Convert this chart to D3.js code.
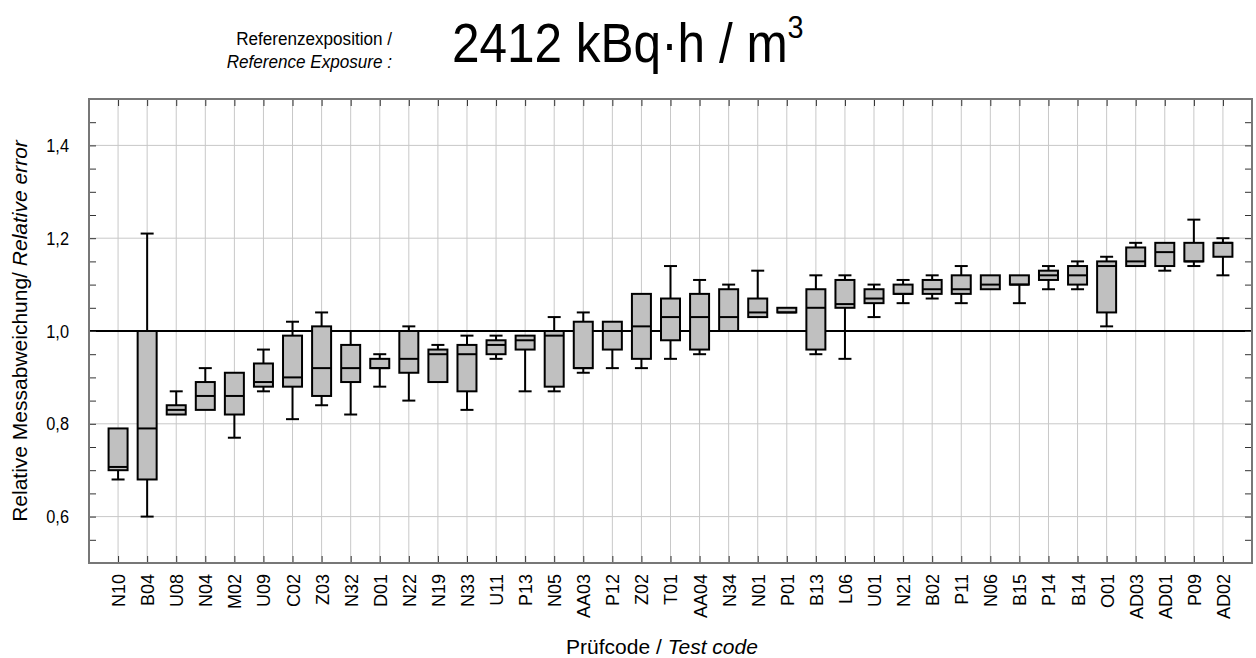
<!DOCTYPE html>
<html>
<head>
<meta charset="utf-8">
<script src="https://cdn.jsdelivr.net/npm/d3@7"></script>
<style>
  body { margin: 0; background: #fff; }
  svg text { font-family: "Liberation Sans", Arial, sans-serif; fill: #000; }
</style>
</head>
<body>
<svg id="chart"></svg>
<script>
// test codes, ordered as in the plot
const codes = ['N10','B04','U08','N04','M02','U09','C02','Z03','N32','D01','N22','N19','N33','U11','P13','N05','AA03','P12','Z02','T01','AA04','N34','N01','P01','B13','L06','U01','N21','B02','P11','N06','B15','P14','B14','O01','AD03','AD01','P09','AD02'];

// box plot statistics
const whiskerLow = [0.68,0.60,0.82,0.83,0.77,0.87,0.81,0.84,0.82,0.88,0.85,0.89,0.83,0.94,0.87,0.87,0.91,0.92,0.92,0.94,0.95,1.00,1.03,1.04,0.95,0.94,1.03,1.06,1.07,1.06,1.09,1.06,1.09,1.09,1.01,1.14,1.13,1.14,1.12];
const q1 =         [0.70,0.68,0.82,0.83,0.82,0.88,0.88,0.86,0.89,0.92,0.91,0.89,0.87,0.95,0.96,0.88,0.92,0.96,0.94,0.98,0.96,1.00,1.03,1.04,0.96,1.05,1.06,1.08,1.08,1.08,1.09,1.10,1.11,1.10,1.04,1.14,1.14,1.15,1.16];
const medians =    [0.707,0.79,0.83,0.86,0.86,0.89,0.90,0.92,0.92,0.92,0.94,0.95,0.95,0.97,0.98,0.99,0.92,1.00,1.01,1.03,1.03,1.03,1.04,1.04,1.05,1.058,1.07,1.08,1.09,1.09,1.10,1.10,1.12,1.12,1.14,1.15,1.17,1.15,1.19];
const q3 =         [0.79,1.00,0.84,0.89,0.91,0.93,0.99,1.01,0.97,0.94,1.00,0.96,0.97,0.98,0.99,1.00,1.02,1.02,1.08,1.07,1.08,1.09,1.07,1.05,1.09,1.11,1.09,1.10,1.11,1.12,1.12,1.12,1.13,1.14,1.15,1.18,1.19,1.19,1.19];
const whiskerHigh = [0.79,1.21,0.87,0.92,0.91,0.96,1.02,1.04,1.00,0.95,1.01,0.97,0.99,0.99,0.99,1.03,1.04,1.02,1.08,1.14,1.11,1.10,1.13,1.05,1.12,1.12,1.10,1.11,1.12,1.14,1.12,1.12,1.14,1.15,1.16,1.19,1.19,1.24,1.20];

const yMajor = [0.6, 0.8, 1.0, 1.2, 1.4];
const yMinor = d3.range(0.55, 1.5, 0.05);
const refValue = 1.0;

const width = 1256, height = 658;
const margin = { top: 99, right: 4, bottom: 95, left: 89 };

const svg = d3.select('#chart')
    .attr('width', width)
    .attr('height', height);

const x = d3.scalePoint()
    .domain(codes)
    .range([margin.left, width - margin.right])
    .padding(1);

const y = d3.scaleLinear()
    .domain([0.5, 1.5])
    .range([height - margin.bottom, margin.top]);

const plotW = width - margin.right - margin.left;
const plotH = height - margin.bottom - margin.top;

// grid
svg.append('g')
    .selectAll('line')
    .data(codes)
    .join('line')
    .attr('x1', d => x(d)).attr('x2', d => x(d))
    .attr('y1', margin.top).attr('y2', height - margin.bottom)
    .attr('stroke', '#c8c8c8').attr('stroke-width', 1);

svg.append('g')
    .selectAll('line')
    .data(yMajor.filter(v => v !== refValue))
    .join('line')
    .attr('x1', margin.left).attr('x2', width - margin.right)
    .attr('y1', d => y(d)).attr('y2', d => y(d))
    .attr('stroke', '#c8c8c8').attr('stroke-width', 1);

// reference line at 1,0
svg.append('line')
    .attr('x1', margin.left).attr('x2', width - margin.right)
    .attr('y1', y(refValue)).attr('y2', y(refValue))
    .attr('stroke', '#000').attr('stroke-width', 2);

// axes (ticks pointing inwards)
const fmt = d => d3.format('.1f')(d).replace('.', ',');

const yAxisL = svg.append('g')
    .attr('transform', `translate(${margin.left},0)`)
    .call(d3.axisLeft(y).tickValues(yMajor).tickFormat(fmt).tickSize(0).tickPadding(0));
yAxisL.select('.domain').remove();
yAxisL.selectAll('.tick text')
    .attr('x', 0)
    .attr('transform', 'translate(-20,0) scale(0.86,1)')
    .style('font-size', '19px');

svg.append('g')
    .attr('transform', `translate(${margin.left},0)`)
    .call(d3.axisLeft(y).tickValues(yMinor).tickFormat('').tickSize(-7))
    .call(g => g.select('.domain').remove())
    .selectAll('line').attr('stroke', '#333');

svg.append('g')
    .attr('transform', `translate(${width - margin.right},0)`)
    .call(d3.axisRight(y).tickValues(yMinor).tickFormat('').tickSize(-7))
    .call(g => g.select('.domain').remove())
    .selectAll('line').attr('stroke', '#333');

svg.append('g')
    .attr('transform', `translate(0,${margin.top})`)
    .call(d3.axisTop(x).tickFormat('').tickSize(-7))
    .call(g => g.select('.domain').remove())
    .selectAll('line').attr('stroke', '#333');

const xAxis = svg.append('g')
    .attr('transform', `translate(0,${height - margin.bottom})`)
    .call(d3.axisBottom(x).tickSize(-7));
xAxis.select('.domain').remove();
xAxis.selectAll('line').attr('stroke', '#333');
xAxis.selectAll('text')
    .style('font-size', '18px')
    .attr('text-anchor', 'end')
    .attr('transform', 'rotate(-90)')
    .attr('x', -11)
    .attr('y', 0)
    .attr('dy', '0.36em');

// frame
svg.append('rect')
    .attr('x', margin.left).attr('y', margin.top)
    .attr('width', plotW).attr('height', plotH)
    .attr('fill', 'none').attr('stroke', '#777').attr('stroke-width', 2);

// boxes
const boxW = 19, capW = 13;
const stats = codes.map((c, i) => ({
    code: c, lo: whiskerLow[i], q1: q1[i], med: medians[i], q3: q3[i], hi: whiskerHigh[i]
}));

const g = svg.append('g').selectAll('g')
    .data(stats)
    .join('g')
    .attr('transform', d => `translate(${x(d.code)},0)`);

g.filter(d => d.hi > d.q3).append('line')
    .attr('y1', d => y(d.q3)).attr('y2', d => y(d.hi))
    .attr('stroke', '#000').attr('stroke-width', 2);
g.filter(d => d.hi > d.q3).append('line')
    .attr('x1', -capW / 2).attr('x2', capW / 2)
    .attr('y1', d => y(d.hi)).attr('y2', d => y(d.hi))
    .attr('stroke', '#000').attr('stroke-width', 2);
g.filter(d => d.lo < d.q1).append('line')
    .attr('y1', d => y(d.q1)).attr('y2', d => y(d.lo))
    .attr('stroke', '#000').attr('stroke-width', 2);
g.filter(d => d.lo < d.q1).append('line')
    .attr('x1', -capW / 2).attr('x2', capW / 2)
    .attr('y1', d => y(d.lo)).attr('y2', d => y(d.lo))
    .attr('stroke', '#000').attr('stroke-width', 2);

g.append('rect')
    .attr('x', -boxW / 2)
    .attr('y', d => y(d.q3))
    .attr('width', boxW)
    .attr('height', d => Math.max(y(d.q1) - y(d.q3), 1))
    .attr('fill', '#c0c0c0')
    .attr('stroke', '#000').attr('stroke-width', 2);

g.append('line')
    .attr('x1', -boxW / 2).attr('x2', boxW / 2)
    .attr('y1', d => y(d.med)).attr('y2', d => y(d.med))
    .attr('stroke', '#000').attr('stroke-width', 2);

// axis titles
const yt = svg.append('text')
    .attr('transform', `translate(27,${margin.top + plotH / 2}) rotate(-90)`)
    .attr('text-anchor', 'middle')
    .style('font-size', '21px');
yt.append('tspan').text('Relative Messabweichung/ ');
yt.append('tspan').style('font-style', 'italic').text('Relative error');

const xt = svg.append('text')
    .attr('x', 662).attr('y', 654)
    .attr('text-anchor', 'middle')
    .style('font-size', '21px');
xt.append('tspan').text('Prüfcode / ');
xt.append('tspan').style('font-style', 'italic').text('Test code');

// header
const head = svg.append('g').attr('transform', 'translate(392,0) scale(0.9,1)');
head.append('text')
    .attr('x', 0).attr('y', 45)
    .attr('text-anchor', 'end')
    .style('font-size', '19px')
    .text('Referenzexposition /');
head.append('text')
    .attr('x', 0).attr('y', 68)
    .attr('text-anchor', 'end')
    .style('font-size', '19px')
    .style('font-style', 'italic')
    .text('Reference Exposure :');

const big = svg.append('g').attr('transform', 'translate(452,62) scale(0.9,1)')
    .append('text')
    .style('font-size', '55px');
big.append('tspan').text('2412 kBq·h / m');
big.append('tspan').attr('dy', -24).style('font-size', '32px').text('3');
</script>
</body>
</html>
